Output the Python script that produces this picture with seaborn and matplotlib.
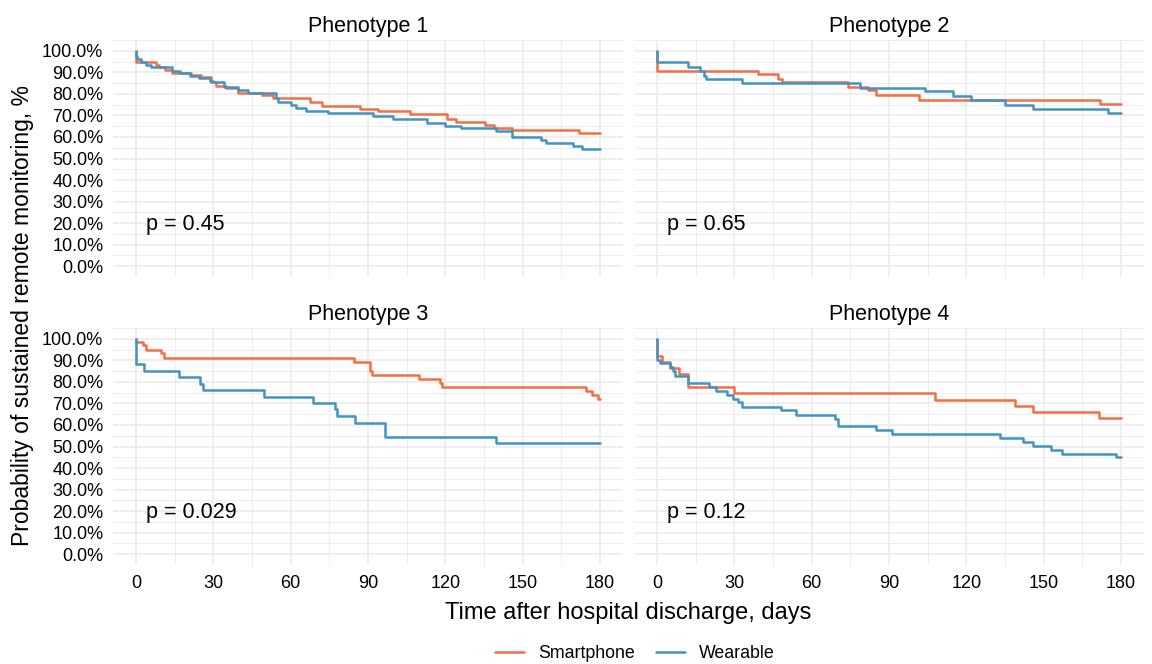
import numpy as np
import pandas as pd
import matplotlib
matplotlib.use("Agg")
import matplotlib.pyplot as plt
import seaborn as sns
from matplotlib.ticker import PercentFormatter, MultipleLocator
from matplotlib.lines import Line2D

# ---------------- data ----------------
phenotypes = ["Phenotype 1", "Phenotype 2", "Phenotype 3", "Phenotype 4"]
devices = ["Smartphone", "Wearable"]
p_values = ["p = 0.45", "p = 0.65", "p = 0.029", "p = 0.12"]

p1_smart_t = [0, 0, 7.8, 9, 11, 14, 21.3, 25, 29, 31, 35, 39.5, 49, 53, 67.3, 72, 86.7, 94, 106.5, 120.6, 124, 135.5, 139, 146, 172, 180]
p1_smart_s = [100, 94.6, 93.5, 92.6, 91, 89.6, 88.7, 87.9, 85.3, 83.7, 82.6, 80.6, 79.4, 78.3, 76, 74.3, 73.2, 72.1, 70.5, 68.5, 67, 65.4, 64.2, 63.1, 61.8, 61.8]
p1_wear_t = [0, 0, 0.5, 2, 4, 5.8, 14, 17, 20.7, 24.5, 28.5, 30, 34, 39.5, 43.4, 54.3, 55, 60, 62, 66, 74.4, 92, 99.6, 113, 120, 126, 139.7, 146, 157, 159, 169.5, 173, 180]
p1_wear_s = [100, 97.7, 96, 95, 93.5, 92.6, 90.7, 89.8, 88.4, 87.3, 86, 85.3, 83, 81.7, 80.6, 78.3, 76.4, 74.9, 73.6, 72.1, 70.9, 69.5, 68.2, 66.7, 65.1, 64, 62.8, 60.2, 58.6, 57, 55.8, 54.6, 54.6]

p2_smart_t = [0, 0, 39.2, 47, 48.3, 74, 82, 85, 101.8, 172, 180]
p2_smart_s = [100, 90.7, 89.1, 87.1, 85.3, 83.4, 81.7, 79.4, 77.2, 75.3, 75.3]
p2_wear_t = [0, 0, 12, 16.8, 18, 19, 33, 78.6, 104, 115, 122, 135, 146, 175, 180]
p2_wear_s = [100, 94.6, 92.7, 90.7, 88.4, 86.7, 85.0, 82.8, 81.1, 79.1, 77.2, 74.7, 72.9, 70.9, 70.9]

p3_smart_t = [0, 0, 2.6, 3.9, 9.7, 10.7, 84.7, 90.9, 91.6, 109.7, 118, 118.7, 174.8, 177, 179.4, 180]
p3_smart_s = [100, 98.4, 96.9, 94.6, 93.3, 91.0, 89.1, 85.2, 83.3, 81.3, 79.3, 77.4, 75.9, 73.9, 72.0, 72.0]
p3_wear_t = [0, 0, 3, 16.8, 24.8, 25.9, 49.8, 68.6, 77, 77.9, 85, 96.5, 139.6, 180]
p3_wear_s = [100, 88.3, 85.2, 82.1, 79, 76.2, 72.8, 70, 67.4, 64, 60.8, 54.6, 51.5, 51.5]

p4_smart_t = [0, 0, 2, 5, 8.4, 12, 30, 108, 139, 146, 171.5, 180]
p4_smart_s = [100, 91.9, 89.1, 86.3, 83.7, 77.5, 74.8, 71.7, 69, 66, 63.2, 63.2]
p4_wear_t = [0, 0, 1, 5, 6, 7, 12, 20, 23, 27, 29.5, 31.4, 33, 48, 53.8, 69, 70.2, 85, 91, 133, 142, 146, 153, 157, 178, 180]
p4_wear_s = [100, 90.2, 88.6, 86.8, 84.9, 82.9, 79.3, 77.5, 75.6, 73.9, 72, 70.5, 68.5, 66.9, 64.6, 62.7, 59.6, 57.5, 55.6, 54, 52.2, 50.4, 48.2, 46.7, 45, 45]

x_ticks = [0, 30, 60, 90, 120, 150, 180]
y_ticks = [0, 10, 20, 30, 40, 50, 60, 70, 80, 90, 100]

curves = {
    ("Phenotype 1", "Smartphone"): (p1_smart_t, p1_smart_s),
    ("Phenotype 1", "Wearable"): (p1_wear_t, p1_wear_s),
    ("Phenotype 2", "Smartphone"): (p2_smart_t, p2_smart_s),
    ("Phenotype 2", "Wearable"): (p2_wear_t, p2_wear_s),
    ("Phenotype 3", "Smartphone"): (p3_smart_t, p3_smart_s),
    ("Phenotype 3", "Wearable"): (p3_wear_t, p3_wear_s),
    ("Phenotype 4", "Smartphone"): (p4_smart_t, p4_smart_s),
    ("Phenotype 4", "Wearable"): (p4_wear_t, p4_wear_s),
}
rows = []
for (ph, dev), (ts, ss) in curves.items():
    for i, (t, s) in enumerate(zip(ts, ss)):
        rows.append({"phenotype": ph, "device": dev, "order": i, "day": t, "surv": s})
df = pd.DataFrame(rows)

palette = {"Smartphone": "#F46D43", "Wearable": "#4393C3"}

# ---------------- styling ----------------
sns.set_theme(style="white")
plt.rcParams["font.family"] = ["Liberation Sans", "DejaVu Sans"]
plt.rcParams["text.color"] = "black"

W, H = 1152, 664
fig = plt.figure(figsize=(W / 100, H / 100), dpi=100)

def fx(px):
    return px / W

def fy(py):
    return 1 - py / H

lefts = [113, 634]
tops = [40, 328]
pw, ph_ = 510, 237
grid_col = "#EBEBEB"

for k, pheno in enumerate(phenotypes):
    r, c = divmod(k, 2)
    ax = fig.add_axes([fx(lefts[c]), fy(tops[r] + ph_), fx(pw), ph_ / H])
    sub = df[df.phenotype == pheno].sort_values(["device", "order"])
    sns.lineplot(data=sub, x="day", y="surv", hue="device", hue_order=devices,
                 palette=palette, estimator=None, sort=False, units="device",
                 drawstyle="steps-post", linewidth=1.8, legend=False, ax=ax)
    ax.set_xlim(-9, 189)
    ax.set_ylim(-5, 105)
    ax.set_xticks(x_ticks)
    ax.set_yticks(y_ticks)
    ax.xaxis.set_minor_locator(MultipleLocator(15))
    ax.yaxis.set_minor_locator(MultipleLocator(5))
    ax.yaxis.set_major_formatter(PercentFormatter(xmax=100, decimals=1))
    ax.grid(which="major", color=grid_col, linewidth=1.1)
    ax.grid(which="minor", color=grid_col, linewidth=0.6)
    ax.set_axisbelow(True)
    for s in ax.spines.values():
        s.set_visible(False)
    ax.set_xlabel("")
    ax.set_ylabel("")
    ax.tick_params(which="minor", length=0)
    ax.tick_params(axis="both", which="major", labelsize=13, colors="#333333",
                   labelcolor="black", length=4, width=1.1, pad=3)
    if r == 0:
        ax.tick_params(axis="x", which="major", length=0, labelbottom=False)
    if c == 1:
        ax.tick_params(axis="y", which="major", length=0, labelleft=False)
    ax.set_title(pheno, fontsize=15.5, pad=6, color="black")
    ax.text(4, 19.5, p_values[k], fontsize=15.5, ha="left", va="center", color="black")

fig.text(fx(628), fy(613), "Time after hospital discharge, days", fontsize=17,
         ha="center", va="center", color="black")
fig.text(fx(23), fy(316), "Probability of sustained remote monitoring, %", fontsize=16.5,
         ha="center", va="center", rotation=90, color="black")

handles = [Line2D([0], [0], color=palette[d], lw=1.8) for d in devices]
fig.legend(handles, devices, loc="center", bbox_to_anchor=(fx(635), fy(654)),
           ncol=2, frameon=False, fontsize=12.8, handlelength=1.6,
           columnspacing=1.2, handletextpad=0.8, labelcolor="black")

fig.savefig("out.png", dpi=100)
